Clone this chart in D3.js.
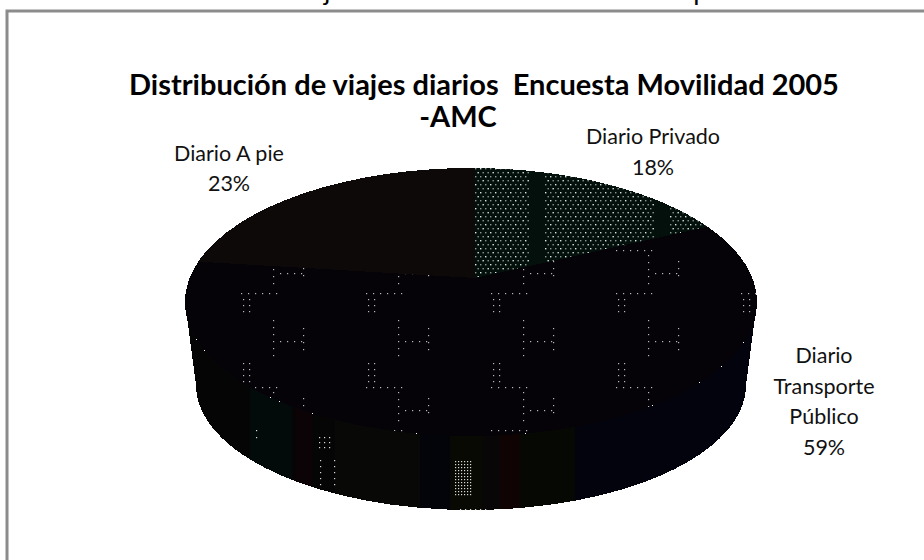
<!DOCTYPE html>
<html lang="es">
<head>
<meta charset="utf-8">
<title>Distribución de viajes diarios</title>
<script src="https://cdn.jsdelivr.net/npm/d3@7/dist/d3.min.js"></script>
<style>
  html, body { margin: 0; padding: 0; background: #fff; }
  svg { display: block; font-family: Lato, "Open Sans", sans-serif; }
</style>
</head>
<body>
<svg id="chart" width="924" height="560"></svg>
<script>
// Trip shares, clockwise from twelve o'clock
const categories = ["Diario Privado", "Diario Transporte Público", "Diario A pie"];
const shares = [18, 59, 23];
const titleLines = ["Distribución de viajes diarios  Encuesta Movilidad 2005", "-AMC"];
const headingAbove = "Distribución modal de viajes en el ámbito del Área Metropolitana de Caracas";

const svg = d3.select("#chart");
const defs = svg.append("defs");

// Tilted disc: upper rim, lower rim, and the vanishing point of the slices
const rim = { cx: 471, cy: 302, rx: 286, ry: 134 };
const base = { cx: 471, cy: 385, rx: 275, ry: 125 };
const hub = { x: 475, y: 278 };

const rimPoint = (e, a) => [e.cx + e.rx * Math.sin(a), e.cy - e.ry * Math.cos(a)];

// Where the ray from the hub in the direction of angle a meets the upper rim
function edgePoint(a) {
  const dx = rim.rx * Math.sin(a), dy = -rim.ry * Math.cos(a);
  const ox = (hub.x - rim.cx) / rim.rx, oy = (hub.y - rim.cy) / rim.ry;
  const ux = dx / rim.rx, uy = dy / rim.ry;
  const A = ux * ux + uy * uy, B = 2 * (ox * ux + oy * uy), C = ox * ox + oy * oy - 1;
  const t = (-B + Math.sqrt(B * B - 4 * A * C)) / (2 * A);
  return [hub.x + t * dx, hub.y + t * dy];
}

const slices = d3.pie().sort(null).value(d => d)(shares);

// Stippled fill of the private-transport slice, with its darker vertical bands
const privTile = defs.append("pattern").attr("id", "stipple-priv")
  .attr("patternUnits", "userSpaceOnUse").attr("x", 420).attr("y", 168)
  .attr("width", 125).attr("height", 80);
privTile.append("rect").attr("width", 125).attr("height", 80).attr("fill", "#03100b");
for (const row of d3.range(0, 20)) {
  for (const col of d3.range(0, 25)) {
    const x = col * 5 + (row % 2 ? 2.5 : 0), y = row * 4;
    if (x > 108 && x < 124) continue;
    privTile.append("rect").attr("x", x).attr("y", y).attr("width", 1.4).attr("height", 1.4)
      .attr("fill", "#e6f2ec").attr("opacity", (row + col) % 3 === 0 ? 0.95 : 0.6);
  }
}

// Sparse dotted motif of the public-transport slice
const pubTile = defs.append("pattern").attr("id", "stipple-pub")
  .attr("patternUnits", "userSpaceOnUse").attr("x", 241).attr("y", 293)
  .attr("width", 125).attr("height", 137);
pubTile.append("rect").attr("width", 125).attr("height", 137).attr("fill", "#050208");
const pubDot = (x, y) => pubTile.append("rect").attr("x", x).attr("y", y)
  .attr("width", 1.2).attr("height", 1.2).attr("fill", "#b8b8b8");
const dotRun = (x0, x1, y0, y1, step) => {
  for (const x of d3.range(x0, x1 + 0.1, step)) for (const y of d3.range(y0, y1 + 0.1, step)) pubDot(x, y);
};
dotRun(0, 35, 0, 0, 7);
dotRun(2, 8, 6, 22, 6);
dotRun(32, 32, 27, 67, 7);
dotRun(39, 62, 48, 48, 7);
dotRun(62, 62, 35, 57, 7);
dotRun(2, 8, 70, 88, 6);
dotRun(0, 35, 94, 94, 7);
dotRun(32, 32, 99, 132, 7);
dotRun(39, 62, 117, 117, 7);
dotRun(62, 62, 105, 125, 7);

// Banded shading of the wall
const wallBands = [
  [185, "#050505"], [250, "#020b09"], [292, "#060405"], [296, "#0b0305"], [312, "#060505"],
  [335, "#080807"], [420, "#03030a"], [450, "#080903"], [482, "#080606"], [500, "#0f0303"],
  [520, "#050803"], [575, "#03030e"], [757, "#03030e"]
];
const wallGrad = defs.append("linearGradient").attr("id", "wall-bands")
  .attr("gradientUnits", "userSpaceOnUse")
  .attr("x1", rim.cx - rim.rx).attr("x2", rim.cx + rim.rx).attr("y1", 0).attr("y2", 0);
wallBands.forEach(([x, color], i) => {
  const at = (x - (rim.cx - rim.rx)) / (2 * rim.rx);
  if (i > 0) wallGrad.append("stop").attr("offset", at).attr("stop-color", wallBands[i - 1][1]);
  wallGrad.append("stop").attr("offset", at).attr("stop-color", color);
});

// Frame, open towards the right and bottom page edges
svg.append("path").attr("d", "M7,560V11H924")
  .attr("fill", "none").attr("stroke", "#8c8c8c").attr("stroke-width", 3);

// Running heading of the page, cut by the top edge
svg.append("text").attr("x", 24).attr("y", 0).attr("font-size", 27).attr("fill", "#000")
  .text(headingAbove);

// Wall of each slice, limited to the front half of the disc
const halfTurn = Math.PI, quarter = Math.PI / 2;
slices.forEach(s => {
  const a0 = Math.max(s.startAngle, quarter), a1 = Math.min(s.endAngle, quarter + halfTurn);
  if (a1 <= a0) return;
  const p0 = rimPoint(rim, a0), p1 = rimPoint(rim, a1);
  const q0 = rimPoint(base, a0), q1 = rimPoint(base, a1);
  svg.append("path")
    .attr("d", `M${p0}A${rim.rx},${rim.ry} 0 0 1 ${p1}L${q1}A${base.rx},${base.ry} 0 0 0 ${q0}Z`)
    .attr("fill", "url(#wall-bands)")
    .attr("shape-rendering", "crispEdges");
});

// Stray stipple left on the wall
const wallDots = svg.append("g").attr("fill", "#d8d8d8");
const wallPatch = (x0, x1, y0, y1, sx, sy) => {
  for (const x of d3.range(x0, x1, sx)) for (const y of d3.range(y0, y1, sy)) {
    wallDots.append("rect").attr("x", x).attr("y", y).attr("width", 1.2).attr("height", 1.2);
  }
};
wallPatch(455, 472, 461, 495, 3, 3);
wallPatch(319, 330, 437, 452, 5, 5);
wallPatch(320, 337, 460, 486, 14, 6);
wallPatch(256, 258, 430, 440, 2, 7);
wallPatch(460, 486, 509, 510, 5, 2);

// Top faces
const sliceFills = ["url(#stipple-priv)", "url(#stipple-pub)", "#0d0909"];
svg.append("g").selectAll("path").data(slices).join("path")
  .attr("d", s => {
    const p0 = edgePoint(s.startAngle), p1 = edgePoint(s.endAngle);
    const large = s.endAngle - s.startAngle > Math.PI ? 1 : 0;
    return `M${hub.x},${hub.y}L${p0}A${rim.rx},${rim.ry} 0 ${large} 1 ${p1}Z`;
  })
  .attr("fill", (s, i) => sliceFills[i])
  .attr("shape-rendering", "crispEdges");

// Title
svg.append("text").attr("x", 484).attr("y", 95).attr("text-anchor", "middle")
  .attr("font-size", 29).attr("font-weight", 700).attr("xml:space", "preserve")
  .text(titleLines[0]);
svg.append("text").attr("x", 458).attr("y", 127).attr("text-anchor", "middle")
  .attr("font-size", 29).attr("font-weight", 700)
  .text(titleLines[1]);

// Slice labels: name lines followed by the share
const labelLines = [
  ["Diario Privado"],
  ["Diario", "Transporte", "Público"],
  ["Diario A pie"]
];
const labelAnchors = [[653, 144, 31], [824, 363, 30.5], [229, 161, 30]];
const labels = svg.append("g").attr("font-size", 21.5).attr("fill", "#111").attr("text-anchor", "middle");
slices.forEach((s, i) => {
  const [x, y, lead] = labelAnchors[i];
  labelLines[i].concat([`${shares[i]}%`]).forEach((line, j) => {
    labels.append("text").attr("x", x).attr("y", y + j * lead).text(line);
  });
});
</script>
</body>
</html>
